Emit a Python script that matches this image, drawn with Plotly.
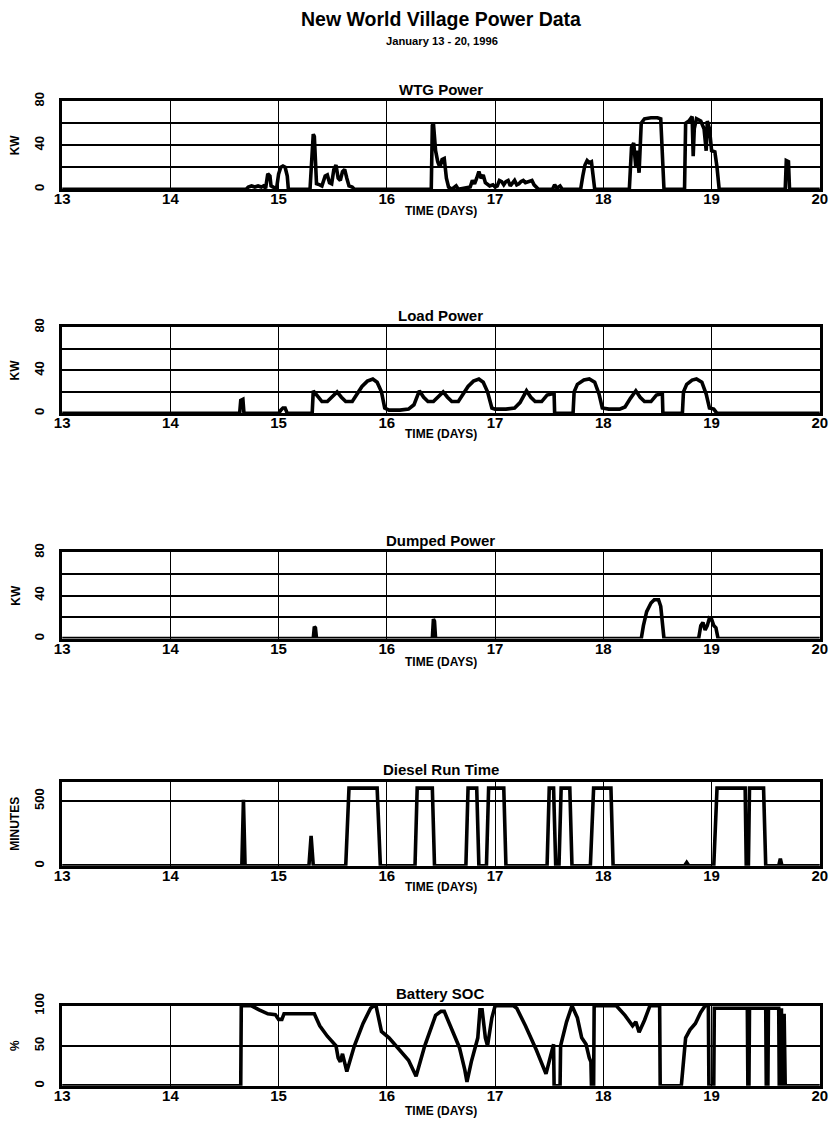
import plotly.graph_objects as go

# ---------------- data ----------------
wtg_t = [13.0, 14.70, 14.72, 14.75, 14.78, 14.81, 14.84, 14.86, 14.88, 14.89, 14.90, 14.92, 14.93, 14.95, 14.98,
         15.00, 15.02, 15.04, 15.06, 15.08, 15.09, 15.29, 15.31, 15.32, 15.33, 15.35, 15.38, 15.40, 15.43, 15.45,
         15.47, 15.49, 15.51, 15.53, 15.55, 15.57, 15.59, 15.61, 15.63, 15.65, 15.68, 15.70,
         16.41, 16.42, 16.43, 16.45, 16.47, 16.49, 16.51, 16.53, 16.55, 16.57, 16.60, 16.64, 16.66,
         16.77, 16.79, 16.81, 16.83, 16.85, 16.87, 16.89, 16.91, 16.93, 16.95, 16.98, 17.00, 17.02, 17.04, 17.06,
         17.08, 17.10, 17.12, 17.14, 17.16, 17.18, 17.20, 17.22, 17.24, 17.26, 17.28, 17.31, 17.34, 17.36, 17.38, 17.40,
         17.53, 17.55, 17.57, 17.60, 17.62,
         17.79, 17.81, 17.83, 17.85, 17.87, 17.89, 17.91, 17.92,
         18.24, 18.26, 18.28, 18.30, 18.31, 18.33, 18.35, 18.38, 18.44, 18.50, 18.53, 18.55, 18.56,
         18.75, 18.76, 18.79, 18.82, 18.83, 18.84, 18.86, 18.90, 18.93, 18.95, 18.96, 18.98, 19.00, 19.03, 19.05, 19.07,
         19.68, 19.69, 19.71, 19.72, 20.0]
wtg_kw = [0, 0, 2, 3, 2, 3, 2, 3, 1, 10, 14, 12, 3, 2, 0,
          14, 20, 21, 20, 12, 0, 0, 45, 50, 48, 5, 4, 3, 12, 13,
          6, 5, 18, 22, 10, 8, 16, 18, 10, 3, 2, 0,
          0, 58, 60, 35, 25, 20, 27, 28, 10, 2, 0, 3, 0,
          2, 8, 5, 10, 16, 10, 13, 6, 4, 3, 4, 2, 3, 8, 7,
          4, 7, 8, 3, 6, 8, 4, 5, 7, 8, 6, 7, 8, 4, 2, 0,
          0, 4, 1, 3, 0,
          0, 12, 22, 26, 24, 25, 10, 0,
          0, 38, 42, 20, 35, 15, 60, 64, 65, 65, 64, 30, 0,
          0, 60, 62, 66, 30, 55, 64, 62, 55, 35, 62, 55, 35, 34, 20, 0,
          0, 26, 25, 0, 0]

load_t = [13.0, 14.64, 14.65, 14.67, 14.68, 15.0, 15.02, 15.04, 15.06, 15.08, 15.31, 15.32, 15.36, 15.40, 15.45,
          15.50, 15.54, 15.58, 15.62, 15.68, 15.72, 15.77, 15.82, 15.87, 15.91, 15.95, 15.98, 16.02, 16.12, 16.20,
          16.25, 16.30, 16.34, 16.38, 16.43, 16.48, 16.52, 16.56, 16.60, 16.66, 16.70, 16.75, 16.80, 16.85, 16.89,
          16.93, 16.97, 17.0, 17.10, 17.18, 17.23, 17.29, 17.33, 17.37, 17.43, 17.48, 17.52, 17.545, 17.55, 17.72,
          17.73, 17.76, 17.82, 17.87, 17.92, 17.96, 17.99, 18.05, 18.15, 18.20, 18.25, 18.30, 18.34, 18.38, 18.44,
          18.49, 18.53, 18.545, 18.55, 18.73, 18.74, 18.77, 18.82, 18.86, 18.91, 18.95, 18.98, 19.02, 19.05, 20.0]
load_kw = [0, 0, 12, 13, 0, 0, 3, 5, 5, 0, 0, 21, 16, 11, 11,
           16, 20, 15, 11, 11, 17, 25, 30, 32, 29, 20, 5, 3, 3, 4,
           8, 21, 15, 11, 11, 16, 20, 15, 11, 11, 17, 25, 30, 32, 29,
           20, 5, 4, 4, 5, 10, 21, 15, 11, 11, 17, 18, 18, 0, 0,
           20, 27, 31, 32, 29, 18, 5, 4, 4, 6, 14, 21, 15, 11, 11,
           17, 18, 18, 0, 0, 20, 27, 31, 32, 29, 18, 5, 4, 0, 0]

dump_t = [13.0, 15.32, 15.33, 15.34, 15.35, 16.42, 16.43, 16.44, 16.45, 18.35, 18.37, 18.40, 18.44, 18.47,
          18.51, 18.53, 18.56, 18.88, 18.90, 18.92, 18.94, 18.96, 18.98, 19.00, 19.02, 19.04, 19.06, 20.0]
dump_kw = [0, 0, 11, 10, 0, 0, 18, 16, 0, 0, 12, 25, 33, 36,
           36, 30, 0, 0, 12, 15, 8, 12, 19, 18, 12, 10, 0, 0]

diesel_t = [13.0, 14.66, 14.675, 14.69, 15.28, 15.30, 15.32, 15.62, 15.65, 15.91, 15.94, 16.26, 16.28, 16.42,
            16.44, 16.73, 16.75, 16.83, 16.85, 16.92, 16.94, 17.08, 17.10, 17.48, 17.50, 17.54, 17.56, 17.59,
            17.61, 17.69, 17.71, 17.88, 17.91, 18.07, 18.09, 18.75, 18.77, 18.79, 19.02, 19.05, 19.31, 19.32,
            19.34, 19.35, 19.48, 19.50, 19.62, 19.635, 19.65, 20.0]
diesel_min = [0, 0, 510, 0, 0, 230, 0, 0, 600, 600, 0, 0, 600, 600,
              0, 0, 600, 600, 0, 0, 600, 600, 0, 0, 600, 600, 0, 0,
              600, 600, 0, 0, 600, 600, 0, 0, 25, 0, 0, 600, 600, 0,
              0, 600, 600, 0, 0, 55, 0, 0]

soc_t = [13.0, 14.65, 14.655, 14.75, 14.82, 14.90, 14.97, 15.0, 15.03, 15.05, 15.33, 15.38, 15.45, 15.50, 15.53,
         15.55, 15.57, 15.59, 15.61, 15.63, 15.70, 15.78, 15.85, 15.88, 15.90, 15.95, 16.02, 16.10, 16.20, 16.27,
         16.35, 16.45, 16.50, 16.53, 16.62, 16.67, 16.72, 16.74, 16.78, 16.84, 16.86, 16.88, 16.91, 16.93, 16.97,
         17.0, 17.17, 17.20, 17.28, 17.38, 17.47, 17.51, 17.54, 17.545, 17.60, 17.605, 17.66, 17.71, 17.76, 17.80,
         17.84, 17.87, 17.885, 17.89, 17.91, 17.915, 18.12, 18.20, 18.27, 18.30, 18.33, 18.38, 18.43, 18.52, 18.525,
         18.72, 18.76, 18.80, 18.85, 18.90, 18.94, 18.97, 18.975, 19.02, 19.025, 19.33, 19.335, 19.345, 19.35, 19.50,
         19.505, 19.52, 19.525, 19.62, 19.625, 19.64, 19.645, 19.655, 19.66, 19.67, 19.68, 20.0]
soc_pct = [0, 0, 100, 100, 95, 90, 89, 83, 83, 90, 90, 75, 62, 55, 50,
           35, 30, 40, 28, 18, 50, 78, 97, 100, 100, 68, 60, 48, 32, 12,
           50, 88, 93, 93, 65, 48, 20, 5, 30, 60, 95, 95, 60, 50, 85,
           100, 100, 97, 75, 45, 15, 35, 52, 0, 0, 50, 80, 100, 85, 60,
           52, 35, 30, 0, 0, 100, 100, 88, 75, 80, 67, 82, 100, 100, 0,
           0, 60, 70, 78, 92, 100, 100, 0, 0, 97, 97, 0, 0, 97, 97,
           0, 0, 97, 97, 0, 0, 97, 0, 0, 90, 0, 0]

panel_titles = ["WTG Power", "Load Power", "Dumped Power", "Diesel Run Time", "Battery SOC"]
y_titles = ["KW", "KW", "KW", "MINUTES", "%"]
x_ticks = [13, 14, 15, 16, 17, 18, 19, 20]

series = [(wtg_t, wtg_kw), (load_t, load_kw), (dump_t, dump_kw), (diesel_t, diesel_min), (soc_t, soc_pct)]
y_ranges = [[0, 80], [0, 80], [0, 80], [0, 650], [0, 100]]
y_tickvals = [[0, 20, 40, 60, 80]] * 3 + [[0, 500], [0, 50, 100]]
y_ticktext = [["0", "", "40", "", "80"]] * 3 + [["0", "500"], ["0", "50", "100"]]

# ---------------- layout (target pixel geometry in the final picture) ----------------
W, H = 834, 1130
KX, KY = 850 / 834, 1146 / 1130   # picture -> page mapping observed in the renderer
DY = 4                            # extra vertical shift observed
X0, X1 = 62, 820
panels_px = [(100, 188), (326, 412), (551, 637), (780, 864), (1004, 1084)]
time_off = [22, 21, 23, 21, 25]
FONT = "Liberation Sans, Arial, sans-serif"


def px_x(p):
    return (p * KX - 8) / W


def px_y(p):
    return 1 - ((p - DY) * KY - 8) / H


fig = go.Figure()
annotations = []
layout = {}
xc = 0.5 * (px_x(X0) + px_x(X1))
for i, ((t, v), (top, bot)) in enumerate(zip(series, panels_px)):
    n = "" if i == 0 else str(i + 1)
    fig.add_trace(go.Scatter(x=t, y=v, mode="lines", line=dict(color="black", width=3.6),
                             xaxis="x" + n, yaxis="y" + n, showlegend=False, hoverinfo="skip"))
    layout["xaxis" + n] = dict(domain=[px_x(X0), px_x(X1)], anchor="y" + n, range=[13, 20],
                               tickvals=x_ticks, showgrid=True, gridcolor="black", gridwidth=1,
                               showline=True, linecolor="black", linewidth=3, mirror=True,
                               ticks="", ticklabelstandoff=-6, ticklabeloverflow="allow",
                               zeroline=False,
                               tickfont=dict(family=FONT, size=15, color="black", weight="bold"))
    layout["yaxis" + n] = dict(domain=[px_y(bot), px_y(top)], anchor="x" + n, range=y_ranges[i],
                               tickvals=y_tickvals[i], ticktext=y_ticktext[i], tickangle=-90,
                               showgrid=True, gridcolor="black", gridwidth=1.6,
                               showline=True, linecolor="black", linewidth=3, mirror=True,
                               zeroline=False, ticks="", ticklabelstandoff=10,
                               tickfont=dict(family=FONT, size=13, color="black", weight="bold"))
    annotations.append(dict(text=panel_titles[i], x=xc, y=px_y(top - 12),
                            xref="paper", yref="paper", showarrow=False, xanchor="center", yanchor="middle",
                            font=dict(family=FONT, size=15, color="black", weight="bold")))
    annotations.append(dict(text="TIME (DAYS)", x=xc, y=px_y(bot + time_off[i]),
                            xref="paper", yref="paper", showarrow=False, xanchor="center", yanchor="middle",
                            font=dict(family=FONT, size=12, color="black", weight="bold")))
    annotations.append(dict(text=y_titles[i], x=px_x(15), y=px_y((top + bot) / 2),
                            xref="paper", yref="paper", showarrow=False, xanchor="center", yanchor="middle",
                            textangle=-90,
                            font=dict(family=FONT, size=12, color="black", weight="bold")))

annotations.append(dict(text="New World Village Power Data", x=px_x(441), y=px_y(18),
                        xref="paper", yref="paper", showarrow=False, xanchor="center", yanchor="middle",
                        font=dict(family=FONT, size=19.5, color="black", weight="bold")))
annotations.append(dict(text="January 13 - 20, 1996", x=px_x(442), y=px_y(40),
                        xref="paper", yref="paper", showarrow=False, xanchor="center", yanchor="middle",
                        font=dict(family=FONT, size=11.2, color="black", weight="bold")))

fig.update_layout(width=W, height=H, autosize=False, margin=dict(l=0, r=0, t=0, b=0),
                  paper_bgcolor="white", plot_bgcolor="white", annotations=annotations,
                  font=dict(family=FONT, color="black"), **layout)

fig.write_html("out.html", config={"displayModeBar": False},
               post_script="document.body.style.margin='0px';document.body.style.padding='0px';"
                           "document.documentElement.style.overflow='hidden';")
